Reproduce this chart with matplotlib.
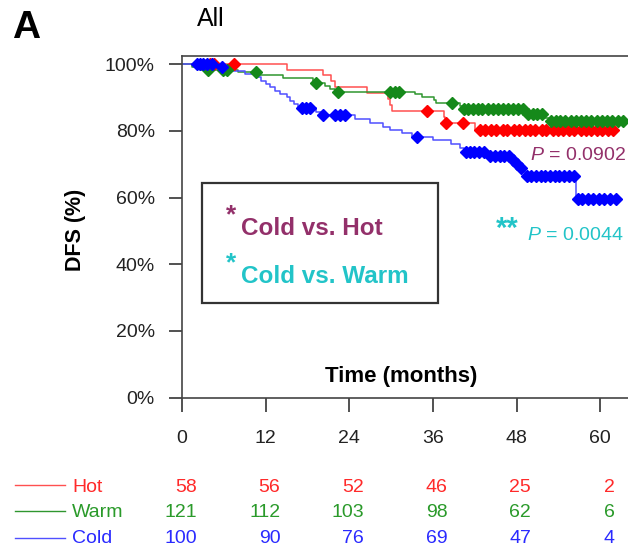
import numpy as np
import matplotlib
matplotlib.use("Agg")
import matplotlib.pyplot as plt
from matplotlib.patches import Rectangle
from matplotlib.lines import Line2D

plt.rcParams["font.family"] = ["Liberation Sans", "DejaVu Sans"]
plt.rcParams["mathtext.fontset"] = "custom"
plt.rcParams["mathtext.it"] = "Liberation Sans:italic"
plt.rcParams["mathtext.rm"] = "Liberation Sans"

# -----------------------
# Kaplan-Meier data (DFS, %)
# -----------------------
groups = ["Hot", "Warm", "Cold"]

hot_time = [0, 15.0, 20.3, 21.4, 22.0, 26.5, 29.5, 29.8, 30.1, 37.6, 37.8, 42.0]
hot_surv = [100, 98.3, 96.6, 94.8, 93.1, 91.4, 89.6, 87.8, 86.0, 84.2, 82.4, 80.2]
hot_cens = [4.0, 4.6, 7.4, 35.1, 37.9, 40.3, 42.8, 43.5, 44.4, 45.1, 46.0, 46.7,
            47.6, 48.3, 49.2, 50.0, 50.7, 51.6, 52.3, 53.2, 54.0, 54.7, 55.6,
            56.3, 57.2, 58.0, 58.7, 59.6, 60.3, 61.1, 61.8]

warm_time = [0, 1.5, 2.6, 8.0, 11.2, 14.5, 18.8, 19.0, 20.5, 21.3, 22.0, 33.4,
             34.5, 36.2, 36.5, 39.9, 40.2, 49.2, 49.4, 52.1, 52.6]
warm_surv = [100, 99.2, 98.3, 97.5, 96.7, 95.8, 95.0, 94.2, 93.4, 92.5, 91.7,
             90.9, 90.0, 89.2, 88.3, 87.5, 86.6, 85.7, 84.9, 83.9, 82.8]
warm_cens = [3.8, 5.9, 6.5, 10.6, 19.3, 22.4, 29.8, 30.5, 31.2, 38.8, 40.4, 41.0,
             41.7, 42.5, 43.1, 43.9, 44.6, 45.3, 46.0, 46.8, 47.5, 48.2, 48.9,
             49.6, 50.3, 51.0, 51.7, 52.9, 53.6, 54.3, 55.0, 55.8, 56.5, 57.2,
             58.0, 58.7, 59.5, 60.2, 61.0, 61.7, 62.5, 63.3]

cold_time = [0, 5.0, 6.5, 9.0, 10.7, 11.4, 12.0, 12.6, 13.3, 14.1, 15.0, 15.5,
             16.0, 16.7, 19.3, 20.0, 24.8, 27.0, 28.9, 29.8, 31.5, 33.0, 36.0,
             38.6, 39.9, 40.5, 44.0, 47.3, 47.8, 48.2, 48.9, 49.3, 56.6]
cold_surv = [100, 99.0, 98.0, 97.0, 96.0, 95.0, 94.0, 93.0, 92.0, 91.0, 90.0,
             89.0, 88.0, 86.9, 85.7, 84.6, 83.4, 82.2, 81.2, 80.1, 79.2, 78.2,
             77.1, 76.0, 74.8, 73.7, 72.5, 71.2, 70.0, 68.8, 67.5, 66.3, 59.7]
cold_cens = [2.1, 2.6, 3.0, 3.6, 4.3, 5.7, 17.2, 17.8, 18.4, 20.2, 22.0, 22.7,
             23.4, 33.7, 40.7, 41.3, 41.9, 42.6, 43.3, 44.2, 44.9, 45.6, 46.2,
             46.9, 47.5, 48.0, 48.6, 49.5, 50.1, 50.8, 51.5, 52.1, 52.8, 53.5,
             54.1, 54.8, 55.5, 56.2, 56.8, 57.4, 58.3, 59.0, 59.8, 60.6, 61.4,
             62.3]

# number at risk
risk_times = [0, 12, 24, 36, 48, 60]
hot_risk = [58, 56, 52, 46, 25, 2]
warm_risk = [121, 112, 103, 98, 62, 6]
cold_risk = [100, 90, 76, 69, 47, 4]

p_hot = "0.0902"
p_warm = "0.0044"

line_colors = ["#ff5050", "#2f962f", "#5050ff"]
mark_colors = ["#ff0000", "#15891a", "#0000ff"]
text_colors = ["#ff2a2a", "#2a9a2a", "#2a2aff"]
maroon = "#93306a"
cyan = "#22c4c8"


def level_at(times, surv, x):
    idx = np.searchsorted(times, x, side="right") - 1
    return np.asarray(surv)[idx]


fig = plt.figure(figsize=(6.28, 5.48), dpi=100)
ax = fig.add_axes([182 / 628, 1 - 397.7 / 548, 446 / 628, 342 / 548])

series = [(hot_time, hot_surv, hot_cens),
          (warm_time, warm_surv, warm_cens),
          (cold_time, cold_surv, cold_cens)]

for (t, s, c), lc in zip(series, line_colors):
    t_end = max(c)
    tt = list(t) + [t_end]
    ss = list(s) + [s[-1]]
    ax.step(tt, ss, where="post", color=lc, lw=1.1, zorder=2)
for (t, s, c), mc in zip(series, mark_colors):
    ax.plot(c, level_at(t, s, c), "D", ms=6.6, color=mc, mec=mc,
            linestyle="none", zorder=3, clip_on=False)

ax.set_xlim(0, 64)
ax.set_ylim(0, 102.5)
ax.set_xticks(risk_times)
ax.set_yticks([0, 20, 40, 60, 80, 100])
ax.set_yticklabels([f"{v}%" for v in range(0, 101, 20)])
ax.tick_params(axis="y", direction="out", length=9.5, width=1.2, pad=10,
               labelsize=14, colors="#333333", labelcolor="#222222")
ax.tick_params(axis="x", direction="out", length=10, width=1.2, pad=13,
               labelsize=14, colors="#333333", labelcolor="#222222")
for side in ["left", "top", "bottom"]:
    ax.spines[side].set_color("#444444")
    ax.spines[side].set_linewidth(1.2)
ax.spines["right"].set_visible(False)

ax.text(31.4, 6.3, "Time (months)", fontsize=16, fontweight="bold",
        ha="center", va="center")
fig.text(75 / 628, 1 - 230 / 548, "DFS (%)", fontsize=15.5, fontweight="bold",
         rotation=90, ha="center", va="center")
fig.text(12 / 628, 1 - 28 / 548, "A", fontsize=28, fontweight="bold",
         ha="left", va="center")
fig.text(211 / 628, 1 - 18.5 / 548, "All", fontsize=18, ha="center", va="center")

# comparison box
ax.add_patch(Rectangle((2.83, 28.3), 33.97, 36.1, facecolor="white",
                       edgecolor="#333333", lw=1.6, zorder=4))
ax.text(6.3, 52.6, "*", color=maroon, fontsize=19, fontweight="bold", zorder=5)
ax.text(8.5, 48.8, "Cold vs. Hot", color=maroon, fontsize=17.5,
        fontweight="bold", zorder=5)
ax.text(6.3, 38.1, "*", color=cyan, fontsize=19, fontweight="bold", zorder=5)
ax.text(8.5, 34.4, "Cold vs. Warm", color=cyan, fontsize=17.5,
        fontweight="bold", zorder=5)

ax.text(49.9, 71.2, "$P$ = " + p_hot, color=maroon, fontsize=14)
ax.text(45.0, 48.3, "**", color=cyan, fontsize=21, fontweight="bold")
ax.text(49.5, 47.2, "$P$ = " + p_warm, color=cyan, fontsize=14)

# number at risk table
trans = matplotlib.transforms.blended_transform_factory(ax.transData, fig.transFigure)
row_base = [491.5, 517, 543]
row_line = [485, 511, 537.5]
for g, risk, lc, tc, yb, yl in zip(groups, [hot_risk, warm_risk, cold_risk],
                                   line_colors, text_colors, row_base, row_line):
    fig.add_artist(Line2D([15 / 628, 65 / 628], [1 - yl / 548] * 2, color=lc, lw=1.0))
    fig.text(72 / 628, 1 - yb / 548, g, color=tc, fontsize=14, va="baseline")
    for rt, n in zip(risk_times, risk):
        ax.text(rt + 2.1, 1 - yb / 548, str(n), color=tc, fontsize=14,
                ha="right", va="baseline", transform=trans)

fig.savefig("out.png", dpi=100)
